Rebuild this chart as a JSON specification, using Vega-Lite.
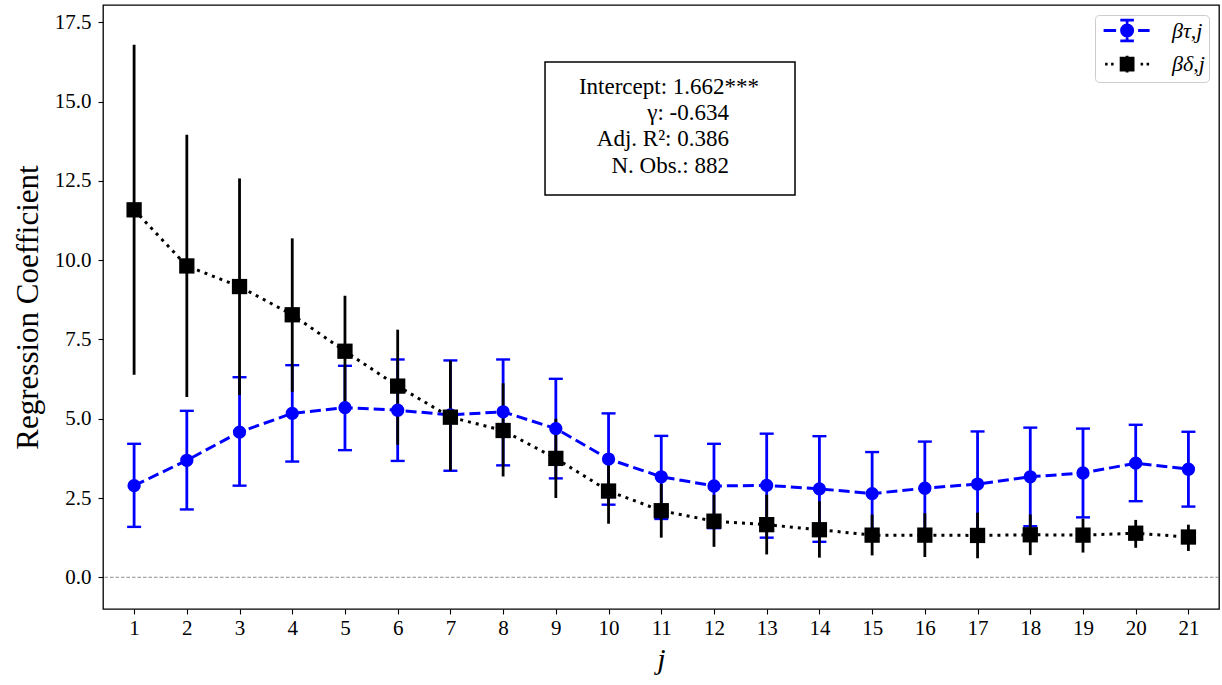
{
  "$schema": "https://vega.github.io/schema/vega-lite/v6.json",
  "width": 1116,
  "height": 604,
  "autosize": {"type": "none"},
  "padding": {"left": 103, "top": 5, "right": 3, "bottom": 76},
  "background": "white",
  "datasets": {
    "coef": [
    {"j": 1, "series": "tau", "b": 2.89, "lo": 1.59, "hi": 4.21},
    {"j": 2, "series": "tau", "b": 3.69, "lo": 2.14, "hi": 5.25},
    {"j": 3, "series": "tau", "b": 4.58, "lo": 2.89, "hi": 6.31},
    {"j": 4, "series": "tau", "b": 5.17, "lo": 3.65, "hi": 6.69},
    {"j": 5, "series": "tau", "b": 5.35, "lo": 4.01, "hi": 6.67},
    {"j": 6, "series": "tau", "b": 5.27, "lo": 3.67, "hi": 6.87},
    {"j": 7, "series": "tau", "b": 5.12, "lo": 3.36, "hi": 6.84},
    {"j": 8, "series": "tau", "b": 5.22, "lo": 3.53, "hi": 6.87},
    {"j": 9, "series": "tau", "b": 4.69, "lo": 3.12, "hi": 6.26},
    {"j": 10, "series": "tau", "b": 3.73, "lo": 2.29, "hi": 5.17},
    {"j": 11, "series": "tau", "b": 3.17, "lo": 1.84, "hi": 4.46},
    {"j": 12, "series": "tau", "b": 2.88, "lo": 1.55, "hi": 4.21},
    {"j": 13, "series": "tau", "b": 2.90, "lo": 1.25, "hi": 4.53},
    {"j": 14, "series": "tau", "b": 2.79, "lo": 1.12, "hi": 4.45},
    {"j": 15, "series": "tau", "b": 2.64, "lo": 1.33, "hi": 3.95},
    {"j": 16, "series": "tau", "b": 2.81, "lo": 1.34, "hi": 4.28},
    {"j": 17, "series": "tau", "b": 2.94, "lo": 1.30, "hi": 4.60},
    {"j": 18, "series": "tau", "b": 3.17, "lo": 1.61, "hi": 4.72},
    {"j": 19, "series": "tau", "b": 3.29, "lo": 1.89, "hi": 4.69},
    {"j": 20, "series": "tau", "b": 3.60, "lo": 2.40, "hi": 4.81},
    {"j": 21, "series": "tau", "b": 3.41, "lo": 2.23, "hi": 4.59},
    {"j": 1, "series": "delta", "b": 11.59, "lo": 6.39, "hi": 16.80},
    {"j": 2, "series": "delta", "b": 9.82, "lo": 5.69, "hi": 13.96},
    {"j": 3, "series": "delta", "b": 9.17, "lo": 5.75, "hi": 12.58},
    {"j": 4, "series": "delta", "b": 8.28, "lo": 5.85, "hi": 10.69},
    {"j": 5, "series": "delta", "b": 7.13, "lo": 5.54, "hi": 8.88},
    {"j": 6, "series": "delta", "b": 6.03, "lo": 4.18, "hi": 7.81},
    {"j": 7, "series": "delta", "b": 5.05, "lo": 3.36, "hi": 6.84},
    {"j": 8, "series": "delta", "b": 4.63, "lo": 3.18, "hi": 6.12},
    {"j": 9, "series": "delta", "b": 3.75, "lo": 2.50, "hi": 5.00},
    {"j": 10, "series": "delta", "b": 2.72, "lo": 1.69, "hi": 3.75},
    {"j": 11, "series": "delta", "b": 2.10, "lo": 1.25, "hi": 2.95},
    {"j": 12, "series": "delta", "b": 1.77, "lo": 0.96, "hi": 2.60},
    {"j": 13, "series": "delta", "b": 1.66, "lo": 0.72, "hi": 2.60},
    {"j": 14, "series": "delta", "b": 1.50, "lo": 0.62, "hi": 2.40},
    {"j": 15, "series": "delta", "b": 1.33, "lo": 0.69, "hi": 1.98},
    {"j": 16, "series": "delta", "b": 1.33, "lo": 0.64, "hi": 2.02},
    {"j": 17, "series": "delta", "b": 1.32, "lo": 0.60, "hi": 2.04},
    {"j": 18, "series": "delta", "b": 1.34, "lo": 0.70, "hi": 1.98},
    {"j": 19, "series": "delta", "b": 1.33, "lo": 0.78, "hi": 1.85},
    {"j": 20, "series": "delta", "b": 1.39, "lo": 0.93, "hi": 1.81},
    {"j": 21, "series": "delta", "b": 1.27, "lo": 0.83, "hi": 1.66}
    ],
    "one": [{"note": "stats"}]
  },
  "data": {"name": "coef"},
  "layer": [
    {"data": {"name": "one"},
     "mark": {"type": "rule", "color": "#808080", "strokeWidth": 0.9, "strokeDash": [3.5, 2]},
     "encoding": {"y": {"datum": 0, "type": "quantitative"}}},
    {"transform": [{"filter": "datum.series === 'tau'"}],
     "mark": {"type": "rule", "color": "#0000ff", "strokeWidth": 2.8},
     "encoding": {
       "x": {"field": "j", "type": "quantitative",
         "scale": {"domain": [0.41, 21.58], "nice": false, "zero": false},
         "axis": {"title": "j", "titleFontStyle": "italic", "titleFontSize": 30, "titlePadding": 6,
           "values": [1,2,3,4,5,6,7,8,9,10,11,12,13,14,15,16,17,18,19,20,21], "labelAngle": 0, "labelPadding": 3}},
       "y": {"field": "lo", "type": "quantitative",
        "scale": {"domain": [-1.0, 18.05], "nice": false, "zero": false},
        "axis": {"title": "Regression Coefficient", "titleFontSize": 31, "titlePadding": 10,
          "values": [0, 2.5, 5, 7.5, 10, 12.5, 15, 17.5], "format": ".1f", "labelPadding": 7}},
       "y2": {"field": "hi"}}},
    {"transform": [{"filter": "datum.series === 'tau'"}],
     "mark": {"type": "tick", "orient": "horizontal", "color": "#0000ff", "size": 14, "thickness": 2.4, "opacity": 1},
     "encoding": {"x": {"field": "j", "type": "quantitative"}, "y": {"field": "lo", "type": "quantitative"}}},
    {"transform": [{"filter": "datum.series === 'tau'"}],
     "mark": {"type": "tick", "orient": "horizontal", "color": "#0000ff", "size": 14, "thickness": 2.4, "opacity": 1},
     "encoding": {"x": {"field": "j", "type": "quantitative"}, "y": {"field": "hi", "type": "quantitative"}}},
    {"transform": [{"filter": "datum.series === 'delta'"}],
     "mark": {"type": "rule", "color": "#000000", "strokeWidth": 2.8},
     "encoding": {"x": {"field": "j", "type": "quantitative"}, "y": {"field": "lo", "type": "quantitative"}, "y2": {"field": "hi"}}},
    {"transform": [{"filter": "datum.series === 'tau'"}],
     "mark": {"type": "line", "color": "#0000ff", "strokeWidth": 3, "strokeDash": [11, 5]},
     "encoding": {"x": {"field": "j", "type": "quantitative"}, "y": {"field": "b", "type": "quantitative"}}},
    {"transform": [{"filter": "datum.series === 'tau'"}],
     "mark": {"type": "point", "shape": "circle", "filled": true, "color": "#0000ff", "size": 177, "opacity": 1},
     "encoding": {"x": {"field": "j", "type": "quantitative"}, "y": {"field": "b", "type": "quantitative"}}},
    {"transform": [{"filter": "datum.series === 'delta'"}],
     "mark": {"type": "line", "color": "#000000", "strokeWidth": 3, "strokeDash": [3, 5]},
     "encoding": {"x": {"field": "j", "type": "quantitative"}, "y": {"field": "b", "type": "quantitative"}}},
    {"transform": [{"filter": "datum.series === 'delta'"}],
     "mark": {"type": "point", "shape": "square", "filled": true, "color": "#000000", "size": 234, "opacity": 1},
     "encoding": {"x": {"field": "j", "type": "quantitative"}, "y": {"field": "b", "type": "quantitative"}}},
    {"data": {"name": "one"},
     "mark": {"type": "rect", "fill": "white", "stroke": "black", "strokeWidth": 1.5},
     "encoding": {"x": {"datum": 8.795, "type": "quantitative"}, "x2": {"datum": 13.537},
       "y": {"datum": 16.25, "type": "quantitative"}, "y2": {"datum": 12.06}}},
    {"data": {"name": "one"},
     "mark": {"type": "text", "text": "Intercept: 1.662***", "font": "Liberation Serif", "fontSize": 23, "align": "center", "baseline": "middle", "color": "black"},
     "encoding": {"x": {"datum": 11.147, "type": "quantitative"}, "y": {"datum": 15.46, "type": "quantitative"}}},
    {"data": {"name": "one"},
     "mark": {"type": "text", "text": ["γ: -0.634", "Adj. R²: 0.386", "N. Obs.: 882"], "font": "Liberation Serif", "fontSize": 23, "lineHeight": 26.3, "align": "right", "baseline": "middle", "color": "black"},
     "encoding": {"x": {"datum": 12.285, "type": "quantitative"}, "y": {"datum": 14.64, "type": "quantitative"}}},
    {"transform": [{"filter": "false"}],
     "mark": {"type": "point", "filled": true, "opacity": 1, "strokeWidth": 2.8},
     "encoding": {
       "x": {"field": "j", "type": "quantitative"},
       "y": {"field": "b", "type": "quantitative"},
       "fill": {"field": "series", "type": "nominal",
         "scale": {"domain": ["βτ,j", "βδ,j"], "range": ["#0000ff", "#000000"]},
         "legend": {"orient": "top-right", "offset": 10, "title": null, "padding": 4, "rowPadding": 2.6,
           "strokeColor": "#cccccc", "fillColor": "white", "cornerRadius": 4,
           "symbolSize": 400, "symbolStrokeWidth": 2.8, "symbolOpacity": 1,
           "labelFont": "Liberation Serif", "labelFontSize": 22, "labelFontStyle": "italic", "labelColor": "black", "labelOffset": 50}},
       "stroke": {"field": "series", "type": "nominal",
         "scale": {"domain": ["βτ,j", "βδ,j"], "range": ["#0000ff", "#000000"]}},
       "shape": {"field": "series", "type": "nominal",
         "scale": {"domain": ["βτ,j", "βδ,j"], "range": [
           "M-0.69,0H0.56M2.76,0H3.91M1.66,-1.03V1.03M0.98,-1.03H2.34M0.98,1.03H2.34M1.1,0A0.56,0.56 0 1,0 2.22,0A0.56,0.56 0 1,0 1.1,0Z",
           "M-0.54,0H-0.29M0.06,0H0.31M3.01,0H3.26M3.61,0H3.86M1.66,-0.83V0.83M1.06,-0.6H2.26V0.6H1.06Z"]}}
     }}
  ],
  "config": {
    "view": {"stroke": "black", "strokeWidth": 1.3},
    "axis": {"domain": false, "grid": false, "tickColor": "black", "tickSize": 5, "tickWidth": 1.1,
      "labelFont": "Liberation Serif", "labelFontSize": 21, "labelColor": "black",
      "titleFont": "Liberation Serif", "titleColor": "black", "titleFontWeight": "normal"}
  }
}
